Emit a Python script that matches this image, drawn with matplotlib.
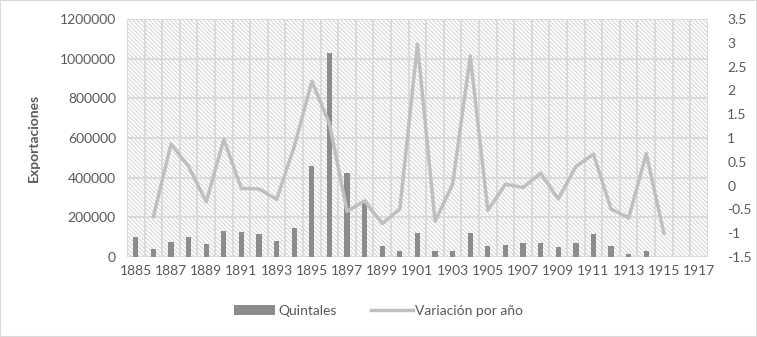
import matplotlib.pyplot as plt
from matplotlib.patches import Rectangle
from matplotlib.ticker import FuncFormatter

plt.rcParams['font.family'] = ['Lato', 'DejaVu Sans']
plt.rcParams['hatch.color'] = '#d2d2d2'
plt.rcParams['hatch.linewidth'] = 0.7

years = list(range(1885, 1918))
quintales = [103000, 40000, 74000, 102000, 66000, 129000, 124000, 116000, 82000, 145000,
             460000, 1029000, 425000, 275000, 57000, 29000, 119000, 29000, 32000, 119000,
             57000, 59000, 69000, 72000, 52000, 69000, 118000, 57000, 17000, 29000,
             None, None, None]
variacion = [None, -0.65, 0.87, 0.40, -0.34, 0.97, -0.06, -0.07, -0.29, 0.82,
             2.19, 1.30, -0.54, -0.32, -0.80, -0.49, 2.97, -0.75, 0.03, 2.72,
             -0.52, 0.03, -0.04, 0.26, -0.28, 0.40, 0.66, -0.49, -0.68, 0.67,
             -1.00, None, None]

GRID = '#d9d9d9'
TXT = '#595959'

fig = plt.figure(figsize=(7.57, 3.37), dpi=100)
fig.patches.append(Rectangle((0, 0), 1, 1, transform=fig.transFigure,
                             fill=False, edgecolor='#d9d9d9', lw=1.5))
ax = fig.add_axes([0.1678, 0.2374, 0.7673, 0.7062])
ax2 = ax.twinx()

x = list(range(len(years)))

# hatched plot background
ax.add_patch(Rectangle((0, 0), 1, 1, transform=ax.transAxes, facecolor='white',
                       hatch='\\' * 8, edgecolor='#d2d2d2', lw=0, zorder=0))

ax.set_xlim(-0.5, len(years) - 0.5)
ax.set_ylim(0, 1200000)
ax.set_yticks(range(0, 1200001, 200000))
ax.yaxis.set_major_formatter(FuncFormatter(lambda v, p: f'{int(v)}'))
for yv in range(0, 1200001, 200000):
    ax.axhline(yv, color=GRID, lw=1.3, zorder=1)
for xv in range(len(years) + 1):
    ax.axvline(xv - 0.5, color=GRID, lw=1.3, zorder=1)

bx = [i for i, v in zip(x, quintales) if v is not None]
bv = [v for v in quintales if v is not None]
bars = ax.bar(bx, bv, width=0.3, color='#8c8c8c', zorder=2, label='Quintales')

lx = [i for i, v in zip(x, variacion) if v is not None]
lv = [v for v in variacion if v is not None]
line, = ax2.plot(lx, lv, color='#bfbfbf', lw=2.5, zorder=3, label='Variación por año')
ax2.set_ylim(-1.5, 3.5)
ax2.set_yticks([-1.5 + 0.5 * i for i in range(11)])
ax2.yaxis.set_major_formatter(FuncFormatter(lambda v, p: f'{v:g}'))

ax.set_xticks(x[::2])
ax.set_xticklabels([str(y) for y in years[::2]])

for a in (ax, ax2):
    for s in a.spines.values():
        s.set_visible(False)
    a.tick_params(length=0, labelsize=10, colors=TXT)
ax.tick_params(axis='x', pad=6)
ax.tick_params(axis='y', pad=8)
ax2.tick_params(axis='y', pad=14)

ax.set_ylabel('Exportaciones', fontsize=10, fontweight='bold', color=TXT, labelpad=14)

fig.legend([bars, line], ['Quintales', 'Variación por año'], loc='center',
           bbox_to_anchor=(0.5, 0.077), ncol=2, frameon=False, fontsize=10,
           labelcolor=TXT, handlelength=3.0, handletextpad=0.2, columnspacing=2.5)

fig.savefig('out.png', dpi=100)
